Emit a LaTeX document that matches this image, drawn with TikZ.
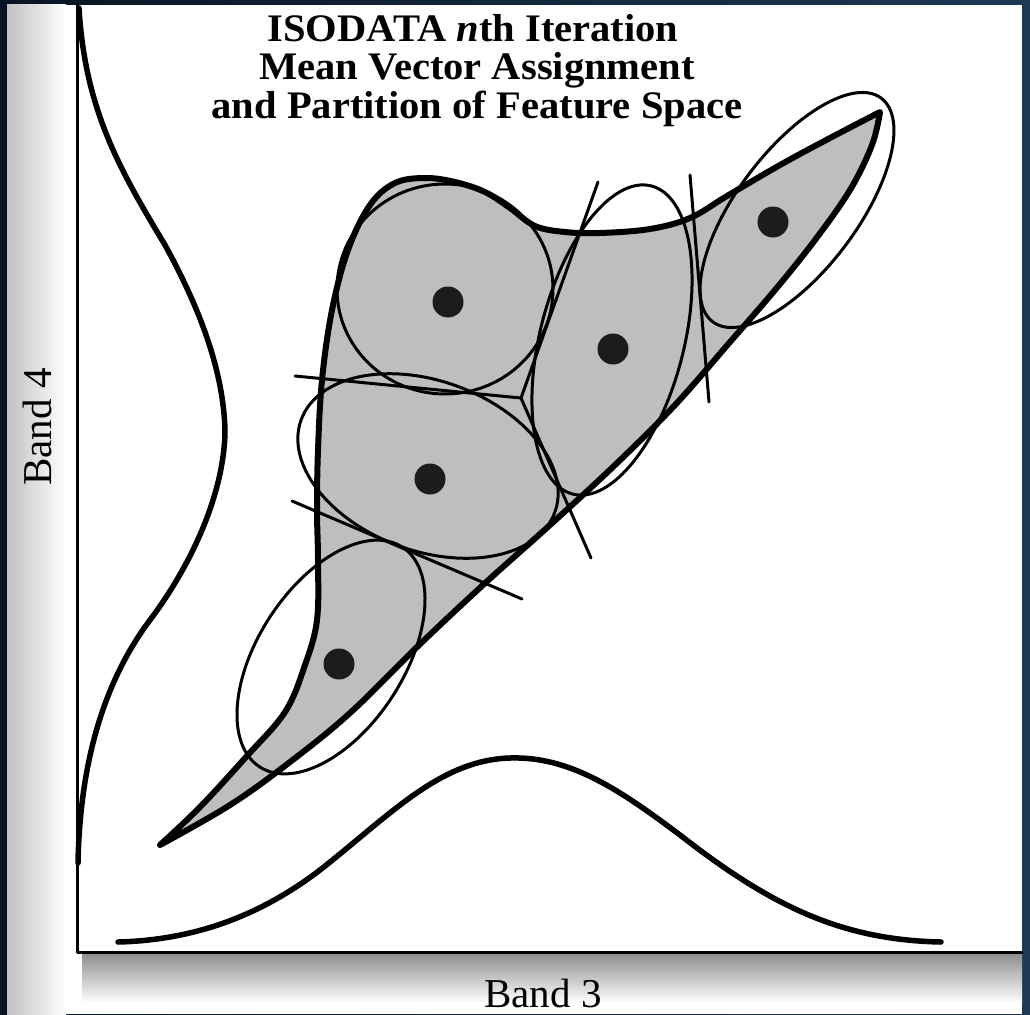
\documentclass[tikz,border=0pt]{standalone}
\usepackage{fontspec}
\setmainfont{Liberation Serif}
\definecolor{navyL}{RGB}{8,20,34}
\definecolor{navyR}{RGB}{30,56,86}
\definecolor{blobgray}{RGB}{190,190,190}
\definecolor{dotblack}{RGB}{28,28,28}
\tikzset{
  outlinepen/.style={line width=6pt, draw=black},
  thinpen/.style={line width=3pt, draw=black},
  histpen/.style={line width=5.5pt, draw=black},
  axispen/.style={line width=3pt, draw=black},
  dotnode/.style={circle, fill=dotblack, inner sep=0pt, minimum size=31pt},
  titletext/.style={font=\bfseries\fontsize{39}{40}\selectfont, anchor=base, inner sep=0pt},
  bandtext/.style={font=\fontsize{41}{44}\selectfont, inner sep=0pt}
}
\begin{document}
\begin{tikzpicture}[x=1pt, y=-1pt, line cap=round, line join=round]
\useasboundingbox (0,0) rectangle (1030,1014);
% frame and panel
\shade[left color=navyL, right color=navyR] (0,0) rectangle (1030,1014);
\fill[white] (7,5) rectangle (1022,1014);
\shade[left color=black!24, right color=white] (7,5) rectangle (66,1014);
\shade[top color=black!45, bottom color=white] (82,953) rectangle (1022,1003);
% axes
\coordinate (axtop) at (77,5);
\coordinate (origin) at (77,952);
\coordinate (axright) at (1022,952);
\draw[axispen] (axtop) -- (origin) -- (axright);
% histograms
\coordinate (h4a) at (79,8);
\coordinate (h4b) at (78,863);
\draw[histpen] (h4a) .. controls (85,110) and (120,170) .. (165,245)
  .. controls (198,305) and (224,370) .. (225,432)
  .. controls (224,490) and (195,560) .. (150,620)
  .. controls (105,680) and (80,760) .. (h4b);
\coordinate (h3a) at (118,942);
\coordinate (h3b) at (941,942);
\draw[histpen] (h3a) .. controls (200,940) and (265,912) .. (320,870)
  .. controls (390,815) and (440,760) .. (510,758)
  .. controls (570,756) and (620,790) .. (680,835)
  .. controls (770,905) and (840,940) .. (h3b);
% feature-space blob
\path[fill=blobgray] plot[smooth, tension=0.6] coordinates {(160,845) (200,807) (246,757) (285,712) (305,665) (317,620) (318,560) (317,510) (318,450) (322,380) (332,310) (348,250) (370,205) (395,183) (425,178) (455,182) (485,192) (510,208) (535,226) (565,232) (600,233) (650,229) (690,218) (727,196) (780,165) (830,138) (880,112)}
  -- plot[smooth, tension=0.6] coordinates {(880,112) (872,145) (850,190) (815,240) (775,290) (730,342) (675,405) (615,465) (550,525) (483,585) (417,647) (350,713) (290,762) (230,805) (160,845)} -- cycle;
% cluster ellipses
\draw[thinpen] (445,289) ellipse[x radius=108pt, y radius=105pt];
\draw[thinpen, rotate around={-20:(428,466)}] (428,466) ellipse[x radius=135pt, y radius=85pt];
\draw[thinpen, rotate around={75.7:(612,340)}] (612,340) ellipse[x radius=159pt, y radius=72pt];
\draw[thinpen, rotate around={53:(797,210)}] (797,210) ellipse[x radius=140pt, y radius=60pt];
\draw[thinpen, rotate around={57:(331,657)}] (331,657) ellipse[x radius=131pt, y radius=73pt];
% partition lines
\coordinate (jn) at (521,398);
\coordinate (la) at (295,376);
\coordinate (lb) at (598,182);
\coordinate (lc) at (591,558);
\coordinate (ld1) at (292,501);
\coordinate (ld2) at (522,599);
\coordinate (le1) at (690,175);
\coordinate (le2) at (709,402);
\draw[thinpen] (la) -- (jn) -- (lb);
\draw[thinpen] (jn) -- (lc);
\draw[thinpen] (ld1) -- (ld2);
\draw[thinpen] (le1) -- (le2);
% blob outline
\draw[outlinepen] plot[smooth, tension=0.6] coordinates {(160,845) (200,807) (246,757) (285,712) (305,665) (317,620) (318,560) (317,510) (318,450) (322,380) (332,310) (348,250) (370,205) (395,183) (425,178) (455,182) (485,192) (510,208) (535,226) (565,232) (600,233) (650,229) (690,218) (727,196) (780,165) (830,138) (880,112)}
  -- plot[smooth, tension=0.6] coordinates {(880,112) (872,145) (850,190) (815,240) (775,290) (730,342) (675,405) (615,465) (550,525) (483,585) (417,647) (350,713) (290,762) (230,805) (160,845)};
% mean vectors
\node[dotnode] (m1) at (448,302) {};
\node[dotnode] (m2) at (430,479) {};
\node[dotnode] (m3) at (613,349) {};
\node[dotnode] (m4) at (773,222) {};
\node[dotnode] (m5) at (339,664) {};
% texts
\node[titletext] (t1) at (473,42) {\scalebox{1.04}[1]{ISODATA \textit{n}th Iteration}};
\node[titletext] (t2) at (477,80) {\scalebox{1.04}[1]{Mean Vector Assignment}};
\node[titletext] (t3) at (477,118) {\scalebox{1.04}[1]{and Partition of Feature Space}};
\node[bandtext, rotate=90] (b4) at (37,427) {Band 4};
\node[bandtext, anchor=base] (b3) at (543,1007) {Band 3};
\end{tikzpicture}
\end{document}
